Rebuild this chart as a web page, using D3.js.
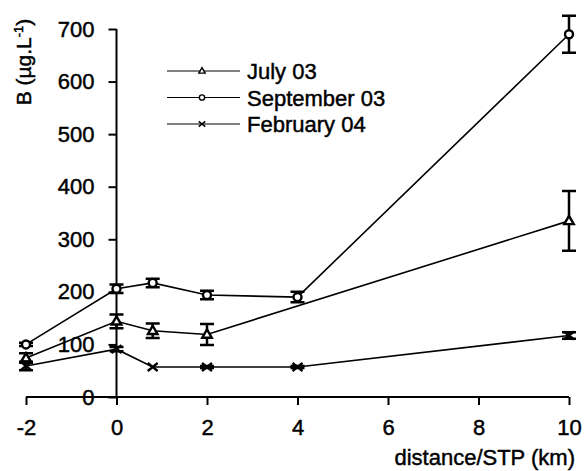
<!DOCTYPE html>
<html>
<head>
<meta charset="utf-8">
<script src="https://cdn.jsdelivr.net/npm/d3@7"></script>
<style>
  html, body { margin: 0; padding: 0; background: #fff; }
  svg { display: block; font-family: Arial, "Liberation Sans", sans-serif; }
  svg text { fill: #000; stroke: #000; stroke-width: 0.45px; }
</style>
</head>
<body>
<svg id="chart" width="585" height="471"></svg>
<script>
// Boron concentration versus distance from the sewage treatment plant
const xTicks = [-2, 0, 2, 4, 6, 8, 10];
const yTicks = [0, 100, 200, 300, 400, 500, 600, 700];

const julyX   = [-2, 0, 0.8, 2, 10];
const julyY   = [74, 144, 126, 119, 335];
const julyErr = [9, 13, 14, 20, 57];

const septX   = [-2, 0, 0.8, 2, 4, 10];
const septY   = [100, 206, 217, 194, 190, 690];
const septErr = [3, 8, 8, 8, 10, 35];

const febX    = [-2, 0, 0.8, 2, 4, 10];
const febY    = [59, 91, 57, 57, 57, 117];
const febErr  = [8, 4, 0, 2, 2, 6];

const seriesNames = ["July 03", "September 03", "February 04"];
const seriesMarkers = ["triangle", "circle", "cross"];

const svg = d3.select("#chart");
const x = d3.scaleLinear().domain([-2, 10]).range([26, 569]);
const y = d3.scaleLinear().domain([0, 700]).range([397, 29]);

// plain hyphen for negative numbers
const fmt = d => String(d);

// axes
const xAxis = svg.append("g").attr("transform", `translate(0,${y(0)})`)
  .call(d3.axisBottom(x).tickValues(xTicks).tickSize(8).tickPadding(14).tickFormat(fmt));
const yAxis = svg.append("g").attr("transform", `translate(${x(0)},0)`)
  .call(d3.axisLeft(y).tickValues(yTicks).tickSize(8).tickPadding(14).tickFormat(fmt));
[xAxis, yAxis].forEach(g => {
  g.select(".domain").attr("stroke", "#000").attr("stroke-width", 2);
  g.selectAll(".tick line").attr("stroke", "#000").attr("stroke-width", 2);
  g.selectAll(".tick text").attr("fill", "#000").style("font-size", "22px")
    .style("font-family", "Arial, 'Liberation Sans', sans-serif");
});
xAxis.select(".domain").attr("d", `M${x(-2)},0H${x(10)}`);
yAxis.select(".domain").attr("d", `M0,${y(700)}V${y(0)}`);

// markers
function drawMarker(g, type, cx, cy, s, sw) {
  if (type === "triangle") {
    g.append("path")
      .attr("d", `M${cx},${cy - s}L${cx + s * 0.95},${cy + s * 0.65}L${cx - s * 0.95},${cy + s * 0.65}Z`)
      .attr("fill", "#fff").attr("stroke", "#000").attr("stroke-width", sw);
  } else if (type === "circle") {
    g.append("circle").attr("cx", cx).attr("cy", cy).attr("r", s * 0.8)
      .attr("fill", "#fff").attr("stroke", "#000").attr("stroke-width", sw);
  } else {
    g.append("path")
      .attr("d", `M${cx - s},${cy - s * 0.8}L${cx + s},${cy + s * 0.8}M${cx - s},${cy + s * 0.8}L${cx + s},${cy - s * 0.8}`)
      .attr("stroke", "#000").attr("stroke-width", sw).attr("fill", "none");
  }
}

const series = [
  { xs: julyX, ys: julyY, es: julyErr, marker: seriesMarkers[0] },
  { xs: septX, ys: septY, es: septErr, marker: seriesMarkers[1] },
  { xs: febX,  ys: febY,  es: febErr,  marker: seriesMarkers[2] }
];

const line = d3.line().x(d => x(d[0])).y(d => y(d[1]));

series.forEach(s => {
  const pts = s.xs.map((v, i) => [v, s.ys[i], s.es[i]]);
  const g = svg.append("g");
  g.append("path").datum(pts).attr("d", line)
    .attr("fill", "none").attr("stroke", "#000").attr("stroke-width", 1.6);
  // error bars
  pts.filter(p => p[2] > 0).forEach(p => {
    const cx = x(p[0]), top = y(p[1] + p[2]), bot = y(p[1] - p[2]);
    g.append("path")
      .attr("d", `M${cx},${top}V${bot}M${cx - 7},${top}H${cx + 7}M${cx - 7},${bot}H${cx + 7}`)
      .attr("stroke", "#000").attr("stroke-width", 2.5).attr("fill", "none");
  });
  pts.forEach(p => drawMarker(g, s.marker, x(p[0]), y(p[1]), 5, 2.4));
});

// legend
const legend = svg.append("g");
seriesNames.forEach((name, i) => {
  const ly = 71 + i * 26.5;
  legend.append("line").attr("x1", 167).attr("x2", 240).attr("y1", ly).attr("y2", ly)
    .attr("stroke", "#000").attr("stroke-width", 1.2);
  drawMarker(legend, seriesMarkers[i], 202, ly, 3.3, 1.4);
  legend.append("text").attr("x", 247).attr("y", ly + 8)
    .style("font-size", "22px").text(name);
});

// axis titles
svg.append("text").attr("x", 575).attr("y", 465).attr("text-anchor", "end")
  .style("font-size", "22px").text("distance/STP (km)");

const yl = svg.append("text")
  .attr("transform", "translate(31,62) rotate(-90)")
  .attr("text-anchor", "middle").style("font-size", "21px");
yl.append("tspan").text("B (µg.L");
yl.append("tspan").attr("dy", -8).style("font-size", "13px").text("-1");
yl.append("tspan").attr("dy", 8).text(")");
</script>
</body>
</html>
